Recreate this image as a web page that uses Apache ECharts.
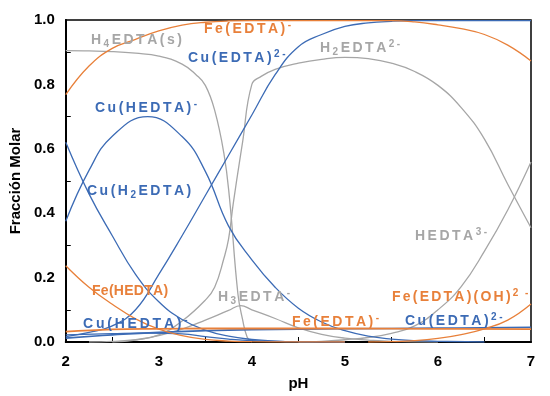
<!DOCTYPE html>
<html>
<head>
<meta charset="utf-8">
<script src="https://cdn.jsdelivr.net/npm/echarts@6/dist/echarts.min.js"></script>
<style>html,body{margin:0;padding:0;background:#fff}#c{width:550px;height:396px}</style>
</head>
<body>
<div id="c"></div>
<script>
// ---- data (pH, molar fraction) ----
const feEDTA = [[2,0.768],[2.25,0.857],[2.5,0.912],[2.75,0.94],[3,0.966],[3.25,0.984],[3.5,0.993],[3.75,0.997],[4,0.998],[5.5,0.998],[5.75,0.994],[6,0.985],[6.25,0.973],[6.5,0.955],[6.75,0.922],[7,0.873]];
const feHEDTA = [[2,0.237],[2.25,0.17],[2.5,0.117],[2.75,0.072],[3,0.04],[3.25,0.02],[3.5,0.008],[3.75,0.003],[4,0.001],[5,0]];
const feEDTAsmall = [[2,0.032],[2.5,0.039],[3,0.041],[3.5,0.042],[4,0.042],[5,0.042],[6,0.041],[7,0.04]];
const feEDTAOH = [[5.25,0],[5.5,0.001],[5.75,0.004],[6,0.011],[6.25,0.023],[6.5,0.041],[6.75,0.068],[7,0.118]];

const cuEDTA = [[2,0.017],[2.25,0.03],[2.5,0.05],[2.75,0.1],[3,0.21],[3.25,0.33],[3.5,0.455],[3.75,0.58],[4,0.705],[4.25,0.83],[4.5,0.917],[4.75,0.955],[5,0.98],[5.25,0.991],[5.5,0.996],[5.75,0.998],[7,0.998]];
const cuH2EDTA = [[2,0.62],[2.25,0.46],[2.5,0.33],[2.75,0.21],[3,0.125],[3.25,0.07],[3.5,0.037],[3.75,0.018],[4,0.008],[4.25,0.003],[4.5,0.001],[5,0]];
const cuHEDTA = [[2,0.375],[2.25,0.533],[2.5,0.639],[2.88,0.70],[3.25,0.638],[3.5,0.53],[3.75,0.36],[4,0.255],[4.25,0.17],[4.5,0.105],[4.75,0.062],[5,0.035],[5.25,0.018],[5.5,0.009],[5.75,0.004],[6,0.002],[6.5,0]];
const cuHEDTAsmall = [[2,0.022],[2.5,0.026],[2.9,0.028],[3.25,0.025],[3.5,0.017],[3.75,0.009],[4,0.004],[4.5,0.001],[5,0]];
const cuEDTAsmall = [[2,0.012],[2.5,0.022],[3,0.03],[3.5,0.035],[4,0.038],[5,0.041],[6,0.043],[7,0.046]];

const h4EDTAs = [[2,0.905],[2.25,0.904],[2.5,0.902],[2.75,0.897],[3,0.888],[3.25,0.863],[3.4,0.83],[3.5,0.797],[3.6,0.72],[3.7,0.585],[3.76,0.446],[3.85,0.15],[3.9,0.07],[3.95,0.015],[4,0]];
const h2EDTA = [[2.5,0],[2.75,0.006],[3,0.022],[3.25,0.065],[3.5,0.13],[3.6,0.17],[3.7,0.26],[3.75,0.32],[3.8,0.43],[3.9,0.62],[4,0.80],[4.1,0.825],[4.25,0.847],[4.5,0.866],[4.75,0.878],[5,0.884],[5.25,0.88],[5.5,0.866],[5.75,0.84],[6,0.797],[6.25,0.728],[6.5,0.63],[6.75,0.49],[7,0.355]];
const h3EDTA = [[2.25,0],[2.5,0.002],[2.75,0.007],[3,0.02],[3.25,0.04],[3.5,0.068],[3.75,0.098],[3.88,0.113],[4,0.1],[4.25,0.073],[4.5,0.044],[4.75,0.024],[5,0.012],[5.25,0.006],[5.5,0.002],[6,0]];
const hEDTA = [[4.5,0],[4.75,0.002],[5,0.007],[5.25,0.014],[5.5,0.027],[5.75,0.05],[6,0.1],[6.25,0.172],[6.5,0.282],[6.75,0.41],[7,0.559]];

const xTickLabels = [2,3,4,5,6,7];
const xMinorTicks = [2.5,3.5,4.5,5.5,6.5];
const yTickLabels = [0,0.2,0.4,0.6,0.8,1.0];
const yMinorTicks = [0.1,0.3,0.5,0.7,0.9];

// ---- styles ----
const ORANGE = '#E8803A', BLUE = '#3C6BB5', GRAY = '#A6A6A6';
const FONT = '"Liberation Sans", Arial, sans-serif';

function line(name, data, color, width) {
  return { name, type: 'line', data, showSymbol: false, smooth: 0.45,
    lineStyle: { color, width: width || 1.3 }, itemStyle: { color }, silent: true, animation: false };
}

// label builder: parts = [[text, kind]] kind: '' normal, 'sub', 'sup', 'g' (gap)
function buildLabel(parts, color, x, y, gap) {
  let s = '';
  parts.forEach(([t, kind]) => {
    for (const ch of t) {
      s += '{' + (kind || 'n') + '|' + ch + '}';
      if (kind !== 'g') s += '{g| }';
    }
  });
  const base = { fontFamily: FONT, fontWeight: 'bold', fill: color };
  return {
    type: 'text', x, y, z: 100,
    style: {
      text: s, align: 'left', verticalAlign: 'middle',
      fontFamily: FONT, fontWeight: 'bold', fontSize: 14, fill: color,
      rich: {
        n: Object.assign({ fontSize: 14, lineHeight: 18 }, base),
        sub: Object.assign({ fontSize: 10, verticalAlign: 'bottom' }, base),
        sup: Object.assign({ fontSize: 10, verticalAlign: 'top' }, base),
        g: Object.assign({ fontSize: gap }, base)
      }
    }
  };
}

const labels = [
  buildLabel([['H',''],['4','sub'],['EDTA(s)','']], GRAY, 91, 40, 9),
  buildLabel([['Fe(EDTA)',''],['-','sup']], ORANGE, 204, 29, 9),
  buildLabel([['Cu(EDTA)',''],['2-','sup']], BLUE, 188, 58, 9),
  buildLabel([['H',''],['2','sub'],['EDTA',''],['2-','sup']], GRAY, 320, 48, 9),
  buildLabel([['Cu(HEDTA)',''],['-','sup']], BLUE, 95, 108, 9),
  buildLabel([['Cu(H',''],['2','sub'],['EDTA)','']], BLUE, 87, 191, 9),
  buildLabel([['HEDTA',''],['3-','sup']], GRAY, 415, 236, 9),
  buildLabel([['Fe(HEDTA)','']], ORANGE, 92, 291, 1),
  buildLabel([['H',''],['3','sub'],['EDTA',''],['-','sup']], GRAY, 218, 297, 9),
  buildLabel([['Fe(EDTA)(OH)',''],['2','sup'],['  ','g'],['-','sup']], ORANGE, 392, 297, 8),
  buildLabel([['Cu(HEDTA)',''],['-','sup']], BLUE, 83, 324, 10),
  buildLabel([['Fe(EDTA)',''],['-','sup']], ORANGE, 292, 322, 9),
  buildLabel([['Cu(EDTA)',''],['2-','sup']], BLUE, 405, 321, 9)
];

const chart = echarts.init(document.getElementById('c'), null, { renderer: 'canvas' });
chart.setOption({
  animation: false,
  backgroundColor: '#fff',
  grid: { left: 61, right: 19, top: 20, bottom: 50, show: true, borderColor: '#000', borderWidth: 1.5, backgroundColor: 'transparent' },
  xAxis: {
    type: 'value', min: 2, max: 7, interval: 1,
    name: 'pH', nameLocation: 'middle', nameGap: 34,
    nameTextStyle: { fontFamily: FONT, fontWeight: 'bold', fontSize: 15, color: '#000' },
    axisLine: { show: true, lineStyle: { color: '#000', width: 2 } },
    axisTick: { show: true, inside: true, length: 5, customValues: xMinorTicks, lineStyle: { color: '#000', width: 1 } },
    axisLabel: { customValues: xTickLabels, margin: 12, fontFamily: FONT, fontWeight: 'bold', fontSize: 15, color: '#000' },
    splitLine: { show: false }
  },
  yAxis: {
    type: 'value', min: 0, max: 1, interval: 0.2,
    name: 'Fracción Molar', nameLocation: 'middle', nameGap: 42,
    nameTextStyle: { fontFamily: FONT, fontWeight: 'bold', fontSize: 15, color: '#000' },
    axisLine: { show: true, lineStyle: { color: '#000', width: 2 } },
    axisTick: { show: true, inside: true, length: 5, customValues: yMinorTicks, lineStyle: { color: '#000', width: 1 } },
    axisLabel: { customValues: yTickLabels, margin: 11, fontFamily: FONT, fontWeight: 'bold', fontSize: 15, color: '#000',
      formatter: v => v.toFixed(1) },
    splitLine: { show: false }
  },
  graphic: labels,
  series: [
    line('H4EDTA(s)', h4EDTAs, GRAY),
    line('H2EDTA2-', h2EDTA, GRAY),
    line('H3EDTA-', h3EDTA, GRAY),
    line('HEDTA3-', hEDTA, GRAY),
    line('Cu(H2EDTA)', cuH2EDTA, BLUE),
    line('Cu(HEDTA)-', cuHEDTA, BLUE),
    line('Cu(EDTA)2-', cuEDTA, BLUE),
    line('Cu(HEDTA)- small', cuHEDTAsmall, BLUE),
    line('Cu(EDTA)2- small', cuEDTAsmall, BLUE, 1.6),
    line('Fe(HEDTA)', feHEDTA, ORANGE),
    line('Fe(EDTA)-', feEDTA, ORANGE),
    line('Fe(EDTA)- small', feEDTAsmall, ORANGE, 1.8),
    line('Fe(EDTA)(OH)2-', feEDTAOH, ORANGE)
  ]
});
</script>
</body>
</html>
